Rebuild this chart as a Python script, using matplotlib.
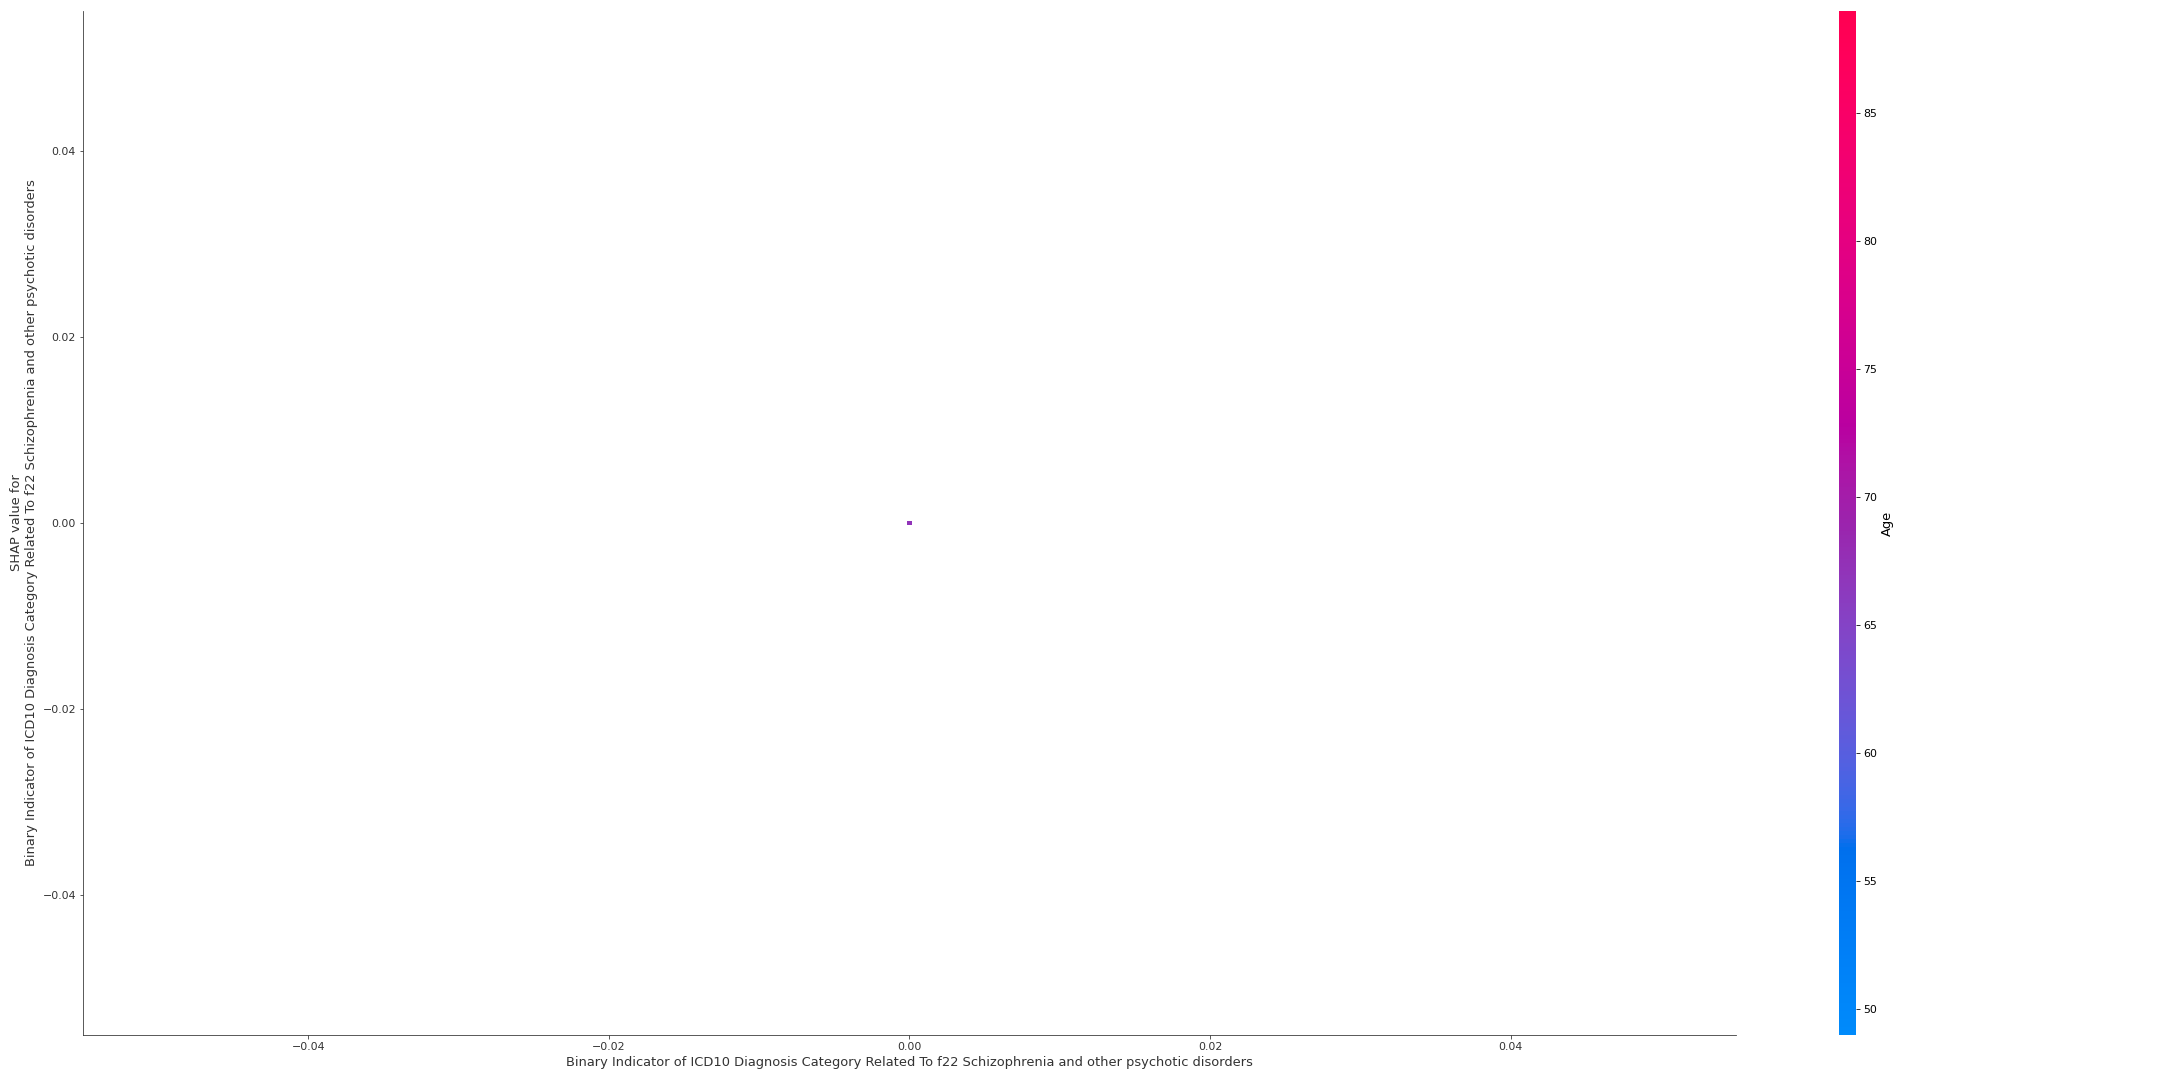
import numpy as np
import matplotlib
matplotlib.use("Agg")
import matplotlib.pyplot as plt
from matplotlib.colors import LinearSegmentedColormap, Normalize

# Valores da figura: indicador binário (todos 0) e SHAP (todos 0), cor = idade
feature_values = [0, 0, 0, 0, 0, 0, 0]
shap_values = [0, 0, 0, 0, 0, 0, 0]
ages = [49, 56, 63, 74, 81, 89, 67]
age_min, age_max = 49, 89
age_ticks = [50, 55, 60, 65, 70, 75, 80, 85]

feature_name = "Binary Indicator of ICD10 Diagnosis Category Related To f22 Schizophrenia and other psychotic disorders"
color_name = "Age"


# mapa de cores red_blue (interpolação em LCH, como no shap)
def lch2rgb(l, c, h):
    a = c * np.cos(h)
    b = c * np.sin(h)
    fy = (l + 16) / 116
    fx = fy + a / 500
    fz = fy - b / 200

    def finv(t):
        return np.where(t > 6 / 29, t ** 3, 3 * (6 / 29) ** 2 * (t - 4 / 29))

    xyz = np.array([0.95047 * finv(fx), 1.0 * finv(fy), 1.08883 * finv(fz)])
    m = np.array([[3.2406, -1.5372, -0.4986],
                  [-0.9689, 1.8758, 0.0415],
                  [0.0557, -0.2040, 1.0570]])
    lin = m @ xyz
    rgb = np.where(lin > 0.0031308, 1.055 * np.abs(lin) ** (1 / 2.4) - 0.055, 12.92 * lin)
    return np.clip(rgb, 0, 1)


blue_lch = [54., 70., 4.6588]
red_lch = [54., 90., 0.35470565 + 2 * np.pi]
l_mid = 40.
nsteps = 100
l_vals = list(np.linspace(blue_lch[0], l_mid, nsteps // 2)) + list(np.linspace(l_mid, red_lch[0], nsteps // 2))
c_vals = np.linspace(blue_lch[1], red_lch[1], nsteps)
h_vals = np.linspace(blue_lch[2], red_lch[2], nsteps)
cores = [lch2rgb(l, c, h) for l, c, h in zip(l_vals, c_vals, h_vals)]
red_blue = LinearSegmentedColormap.from_list("red_blue", cores)

axis_color = "#333333"

fig = plt.figure(figsize=(30, 15), dpi=72)
ax = fig.add_axes([0.0384, 0.0417, 0.7653, 0.9481])
cax = fig.add_axes([0.8514, 0.0417, 0.0079, 0.9481])

norm = Normalize(vmin=age_min, vmax=age_max)
p = ax.scatter(feature_values, shap_values, s=22, c=ages, cmap=red_blue, norm=norm,
               linewidth=0, alpha=1, marker="s", rasterized=True)

cb = fig.colorbar(p, cax=cax, ticks=age_ticks)
cb.set_label(color_name, size=13)
cb.ax.tick_params(labelsize=11)
cb.outline.set_visible(False)

ax.set_xlabel(feature_name, color=axis_color, fontsize=13)
ax.set_ylabel("SHAP value for\n" + feature_name, color=axis_color, fontsize=13)
ax.xaxis.set_ticks_position("bottom")
ax.yaxis.set_ticks_position("left")
ax.spines["right"].set_visible(False)
ax.spines["top"].set_visible(False)
ax.spines["left"].set_color(axis_color)
ax.spines["bottom"].set_color(axis_color)
ax.tick_params(color=axis_color, labelcolor=axis_color, labelsize=11)

fig.savefig("out.png", dpi=72)
